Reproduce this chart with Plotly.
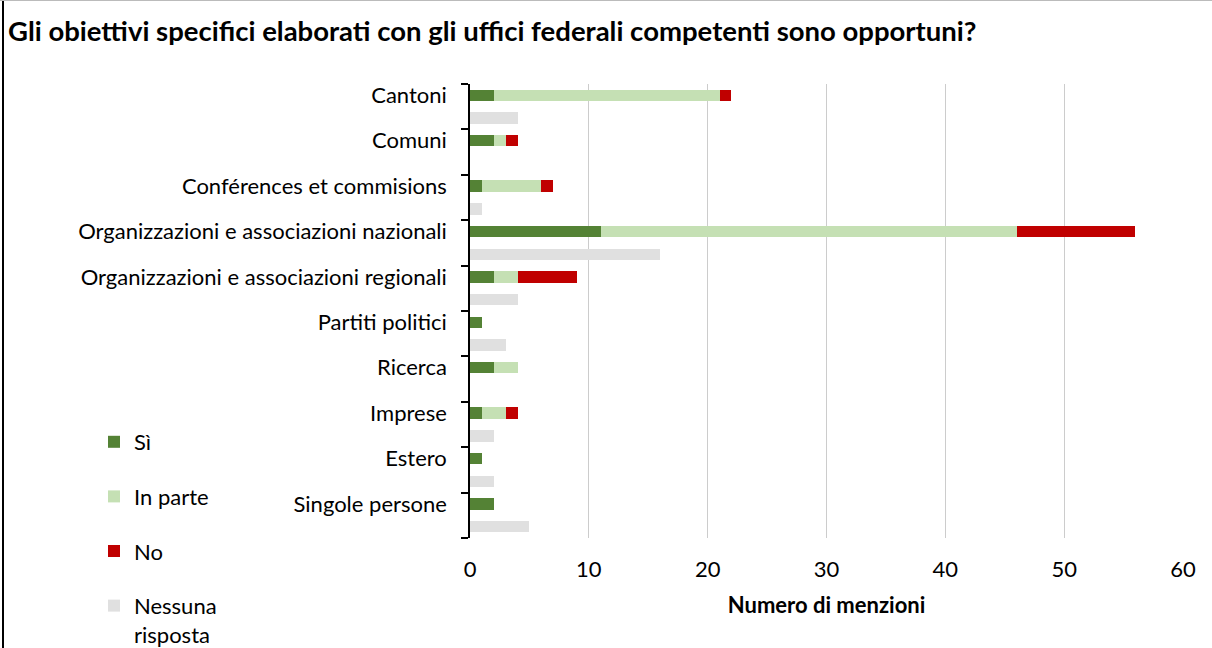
import plotly.graph_objects as go

categories = ["Cantoni", "Comuni", "Conférences et commisions",
              "Organizzazioni e associazioni nazionali",
              "Organizzazioni e associazioni regionali", "Partiti politici",
              "Ricerca", "Imprese", "Estero", "Singole persone"]
si = [2, 2, 1, 11, 2, 1, 2, 1, 1, 2]
in_parte = [19, 1, 5, 35, 2, 0, 2, 2, 0, 0]
no = [1, 1, 1, 10, 5, 0, 0, 1, 0, 0]
nessuna = [4, 0, 1, 16, 4, 3, 0, 2, 2, 5]
series_names = ["Sì", "In parte", "No", "Nessuna<br>risposta"]
x_ticks = [0, 10, 20, 30, 40, 50, 60]

FONT = "Lato"
FS = 22
colors = ["#548235", "#C5E0B4", "#C00000", "#E0E0E0"]

n = len(categories)
y_main = [i + 0.25 for i in range(n)]
y_none = [i + 0.75 for i in range(n)]

fig = go.Figure()
for name, vals, col in zip(series_names[:3], [si, in_parte, no], colors[:3]):
    fig.add_trace(go.Bar(y=y_main, x=vals, orientation="h", name=name,
                         width=0.25, marker=dict(color=col, line=dict(width=0)),
                         legendgroup=name))
fig.add_trace(go.Bar(y=y_none, x=nessuna, orientation="h", name=series_names[3],
                     width=0.25, marker=dict(color=colors[3], line=dict(width=0)),
                     legendgroup="nr"))

L, R, T, B = 470, 29, 84, 110
H = 648 - T - B
W = 1212 - L - R

def px_x(p):
    return (p - L) / W

def px_y(p):
    return (648 - B - p) / H

fig.update_layout(
    width=1212, height=648,
    margin=dict(l=L, r=R, t=T, b=B, autoexpand=False),
    barmode="stack",
    plot_bgcolor="white", paper_bgcolor="white",
    font=dict(family=FONT, size=FS, color="#000000"),
    title=dict(text="<b>Gli obiettivi specifici elaborati con gli uffici federali competenti sono opportuni?</b>",
               x=8 / 1212, xanchor="left", xref="container",
               y=1 - 31 / 648, yanchor="middle", yref="container",
               font=dict(family=FONT, size=27.5, color="#000000")),
    xaxis=dict(range=[0, 60], tickvals=x_ticks, showgrid=True, gridcolor="#CCCCCC",
               gridwidth=1, zeroline=False, showline=False,
               ticks="outside", ticklen=12, tickcolor="rgba(0,0,0,0)",
               title=dict(text="<b>Numero di menzioni</b>", standoff=16,
                          font=dict(family=FONT, size=FS))),
    yaxis=dict(range=[n, 0], tickvals=y_main, ticktext=categories,
               showgrid=False, zeroline=False, showline=True, linecolor="#000000",
               linewidth=1.5, ticks="", ticklabelstandoff=17,
               minor=dict(tickvals=list(range(n + 1)), ticks="outside", ticklen=7,
                          tickcolor="#000000", tickwidth=1.5, showgrid=False)),
    legend=dict(x=px_x(94), xanchor="left", y=px_y(421), yanchor="top",
                tracegroupgap=23, valign="top", bgcolor="rgba(0,0,0,0)",
                font=dict(family=FONT, size=FS)),
    bargap=0,
)

fig.add_shape(type="line", xref="paper", yref="paper",
              x0=px_x(3), x1=px_x(3), y0=px_y(0), y1=px_y(648),
              line=dict(color="#000000", width=2))
fig.add_shape(type="line", xref="paper", yref="paper",
              x0=px_x(0), x1=px_x(1212), y0=px_y(0.5), y1=px_y(0.5),
              line=dict(color="#BBBBBB", width=1))

fig.write_html("out.html")
